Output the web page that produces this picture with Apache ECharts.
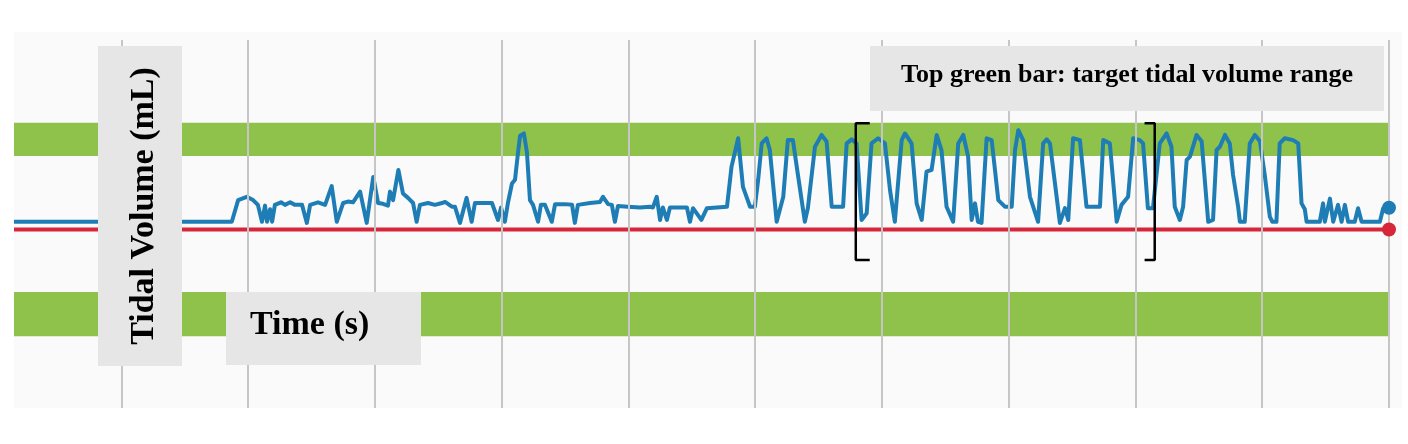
<!DOCTYPE html>
<html>
<head>
<meta charset="utf-8">
<script src="https://cdn.jsdelivr.net/npm/echarts@6/dist/echarts.min.js"></script>
<style>
html,body{margin:0;padding:0;background:#ffffff;}
#chart{width:1408px;height:444px;}
</style>
</head>
<body>
<div id="chart"></div>
<script>
// ---- data (time in s, tidal volume in mL) ----
var gridTimes = [5, 10, 15, 20, 25, 30, 35, 40, 45, 50, 55];
var targetBand = [20, 29];
var lowerBand = [-29, -17];
var tidalTimes = [
  0.77, 9.36, 9.61, 9.95, 10.20, 10.39, 10.55, 10.67, 10.75, 10.87, 10.95, 11.06, 11.30, 11.46, 11.66, 11.85, 12.13,
  12.32, 12.45, 12.76, 13.04, 13.30, 13.50, 13.75, 13.94, 14.14, 14.42, 14.68, 14.94, 15.13, 15.32, 15.52, 15.60,
  15.72, 15.93, 16.11, 16.31, 16.51, 16.65, 16.78, 17.10, 17.37, 17.65, 17.77, 18.04, 18.16, 18.36, 18.62, 18.82,
  18.95, 19.27, 19.62, 19.86, 19.98, 20.13, 20.25, 20.41, 20.53, 20.65, 20.73, 20.88, 21.00, 21.12, 21.24, 21.44,
  21.55, 21.71, 21.98, 22.11, 22.50, 22.78, 22.89, 23.01, 23.49, 23.88, 24.00, 24.20, 24.35, 24.47, 24.59, 24.98,
  25.46, 25.85, 25.97, 26.12, 26.25, 26.36, 26.52, 26.64, 27.04, 27.31, 27.43, 27.55, 27.88, 28.10, 28.49, 28.89,
  29.07, 29.33, 29.52, 29.80, 29.99, 30.12, 30.26, 30.45, 30.58, 30.85, 31.11, 31.29, 31.49, 31.70, 31.96, 32.08,
  32.36, 32.62, 32.82, 33.02, 33.47, 33.61, 33.81, 34.00, 34.20, 34.40, 34.59, 34.85, 35.12, 35.32, 35.51, 35.78,
  35.91, 36.17, 36.37, 36.57, 36.76, 36.96, 37.16, 37.35, 37.55, 37.81, 38.01, 38.21, 38.40, 38.54, 38.67, 38.79,
  38.93, 39.13, 39.33, 39.59, 39.85, 40.12, 40.25, 40.38, 40.57, 40.84, 41.16, 41.36, 41.50, 41.63, 42.02, 42.22,
  42.35, 42.54, 42.81, 43.07, 43.60, 43.73, 43.99, 44.26, 44.45, 44.71, 44.91, 45.17, 45.30, 45.49, 45.69, 45.96,
  46.23, 46.42, 46.55, 46.75, 46.88, 47.02, 47.15, 47.41, 47.61, 47.87, 48.06, 48.20, 48.33, 48.53, 48.72, 48.85,
  49.05, 49.12, 49.31, 49.51, 49.71, 49.91, 50.10, 50.30, 50.40, 50.56, 50.69, 50.89, 51.22, 51.42, 51.55, 51.68,
  51.75, 52.27, 52.40, 52.47, 52.67, 52.80, 52.99, 53.13, 53.26, 53.39, 53.65, 53.78, 53.92, 54.64, 54.77, 55.00
];
var tidalVolumes = [
  2.1, 2.1, 8.0, 8.9, 8.0, 6.7, 2.1, 6.5, 2.1, 5.5, 2.1, 6.7, 7.4, 6.7, 7.4, 6.7, 6.7,
  1.8, 6.7, 7.4, 6.7, 11.8, 2.1, 7.2, 7.6, 7.4, 10.3, 1.8, 14.3, 7.2, 7.0, 6.5, 10.3,
  8.0, 16.2, 9.8, 8.6, 7.2, 2.1, 6.7, 7.2, 6.7, 7.2, 7.5, 6.2, 6.2, 1.8, 8.6, 2.1,
  7.2, 7.2, 7.2, 2.6, 6.0, 2.1, 7.2, 12.5, 13.5, 21.0, 25.5, 26.1, 21.0, 8.0, 6.7, 2.1,
  6.7, 6.7, 2.1, 6.9, 6.9, 6.7, 1.8, 6.7, 7.2, 7.5, 8.9, 6.9, 6.7, 2.1, 6.4, 6.2,
  6.0, 6.2, 6.0, 8.9, 2.6, 6.0, 2.6, 6.0, 6.0, 6.0, 2.1, 5.8, 2.6, 5.8, 6.0, 6.2,
  17.1, 24.8, 11.6, 6.2, 6.2, 13.5, 23.4, 24.8, 21.6, 2.1, 8.9, 24.3, 24.3, 14.3, 2.1, 5.8,
  22.5, 25.7, 23.9, 6.2, 6.2, 23.4, 24.5, 23.4, 2.6, 4.4, 23.4, 24.8, 23.4, 10.7, 2.1, 24.3,
  26.1, 23.4, 7.1, 2.6, 15.7, 16.2, 25.7, 21.6, 6.2, 2.1, 23.4, 25.7, 19.8, 2.6, 7.1, 2.1,
  1.8, 24.8, 24.3, 8.0, 6.2, 6.2, 21.6, 27.0, 24.3, 8.9, 2.1, 23.4, 24.5, 23.4, 1.8, 5.8,
  2.6, 24.8, 24.3, 6.2, 6.2, 24.3, 23.4, 2.1, 6.7, 8.9, 24.8, 24.3, 23.4, 5.8, 5.8, 23.4,
  26.1, 22.5, 6.2, 2.6, 6.2, 18.9, 19.8, 25.7, 24.0, 2.1, 2.6, 21.6, 22.5, 25.7, 23.4, 14.8,
  6.2, 2.1, 2.1, 23.4, 25.7, 24.0, 14.8, 3.5, 2.1, 2.1, 23.4, 24.8, 24.3, 23.4, 7.1, 5.5,
  2.1, 2.1, 7.1, 2.1, 8.4, 2.1, 6.7, 2.1, 6.7, 2.1, 2.1, 5.8, 2.1, 2.1, 5.8, 5.9
];
var referenceTimes = [0.77, 55.00];
var referenceVolumes = [0, 0];
// bracket marking the highlighted breaths
var bracketStart = 33.97, bracketEnd = 45.76, bracketTop = 28.9, bracketBottom = -8.3;

// ---- build ----
function pairs(xs, ys) { return xs.map(function (x, i) { return [x, ys[i]]; }); }
var tidalData = pairs(tidalTimes, tidalVolumes);
var refData = pairs(referenceTimes, referenceVolumes);
var leftBracket = [[bracketStart + 0.55, bracketTop], [bracketStart, bracketTop], [bracketStart, bracketBottom], [bracketStart + 0.55, bracketBottom]];
var rightBracket = [[bracketEnd - 0.4, bracketTop], [bracketEnd, bracketTop], [bracketEnd, bracketBottom], [bracketEnd - 0.4, bracketBottom]];

var BLUE = '#1f7db5', RED = '#d7263a', GREEN = '#8fc24b', GRAY = '#c6c6c6', BOX = '#e6e6e6';
var FONT = '"Liberation Serif", "Times New Roman", serif';

var chart = echarts.init(document.getElementById('chart'), null, { renderer: 'canvas' });
chart.setOption({
  animation: false,
  backgroundColor: '#ffffff',
  grid: { left: 14, right: 19, top: 40, bottom: 36, show: false },
  xAxis: { type: 'value', min: 0.77, max: 55, show: false, splitLine: { show: false } },
  yAxis: { type: 'value', min: -48.5, max: 51.5, show: false, splitLine: { show: false } },
  graphic: [
    { type: 'rect', z: -10, silent: true, shape: { x: 14, y: 32, width: 1388, height: 376 }, style: { fill: '#fafafa' } },
    { type: 'rect', z: 100, silent: true, shape: { x: 98, y: 46, width: 84, height: 320 }, style: { fill: BOX } },
    { type: 'text', z: 101, silent: true, x: 144, y: 206, rotation: Math.PI / 2,
      style: { text: 'Tidal Volume (mL)', font: 'bold 34px ' + FONT, fill: '#000', align: 'center', verticalAlign: 'middle' } },
    { type: 'rect', z: 100, silent: true, shape: { x: 226, y: 292, width: 195, height: 73 }, style: { fill: BOX } },
    { type: 'text', z: 101, silent: true, x: 250, y: 325,
      style: { text: 'Time (s)', font: 'bold 34px ' + FONT, fill: '#000', align: 'left', verticalAlign: 'middle' } },
    { type: 'rect', z: 100, silent: true, shape: { x: 870, y: 46, width: 514, height: 65 }, style: { fill: BOX } },
    { type: 'text', z: 101, silent: true, x: 1127, y: 75,
      style: { text: 'Top green bar: target tidal volume range', font: 'bold 26px ' + FONT, fill: '#000', align: 'center', verticalAlign: 'middle' } }
  ],
  series: [
    {
      type: 'line', z: 1, data: [], silent: true,
      markLine: {
        silent: true, symbol: 'none', label: { show: false },
        lineStyle: { color: GRAY, width: 2, type: 'solid' },
        data: gridTimes.map(function (t) { return { xAxis: t }; })
      }
    },
    {
      type: 'line', z: 2, data: [], silent: true,
      markArea: {
        silent: true, itemStyle: { color: GREEN }, label: { show: false },
        data: [
          [{ yAxis: targetBand[0] }, { yAxis: targetBand[1] }],
          [{ yAxis: lowerBand[0] }, { yAxis: lowerBand[1] }]
        ]
      }
    },
    {
      type: 'line', z: 3, data: refData, showSymbol: false, silent: true,
      lineStyle: { color: RED, width: 4 }
    },
    {
      type: 'line', z: 4, data: tidalData, showSymbol: false, silent: true,
      lineStyle: { color: BLUE, width: 4, join: 'round' }
    },
    {
      type: 'scatter', z: 5, silent: true, symbol: 'circle', symbolSize: 14,
      data: [
        { value: tidalData[tidalData.length - 1], itemStyle: { color: BLUE, opacity: 1 } },
        { value: refData[refData.length - 1], itemStyle: { color: RED, opacity: 1 } }
      ]
    },
    {
      type: 'line', z: 6, data: leftBracket, showSymbol: false, silent: true,
      lineStyle: { color: '#000', width: 2.5 }
    },
    {
      type: 'line', z: 6, data: rightBracket, showSymbol: false, silent: true,
      lineStyle: { color: '#000', width: 2.5 }
    }
  ]
});
</script>
</body>
</html>
